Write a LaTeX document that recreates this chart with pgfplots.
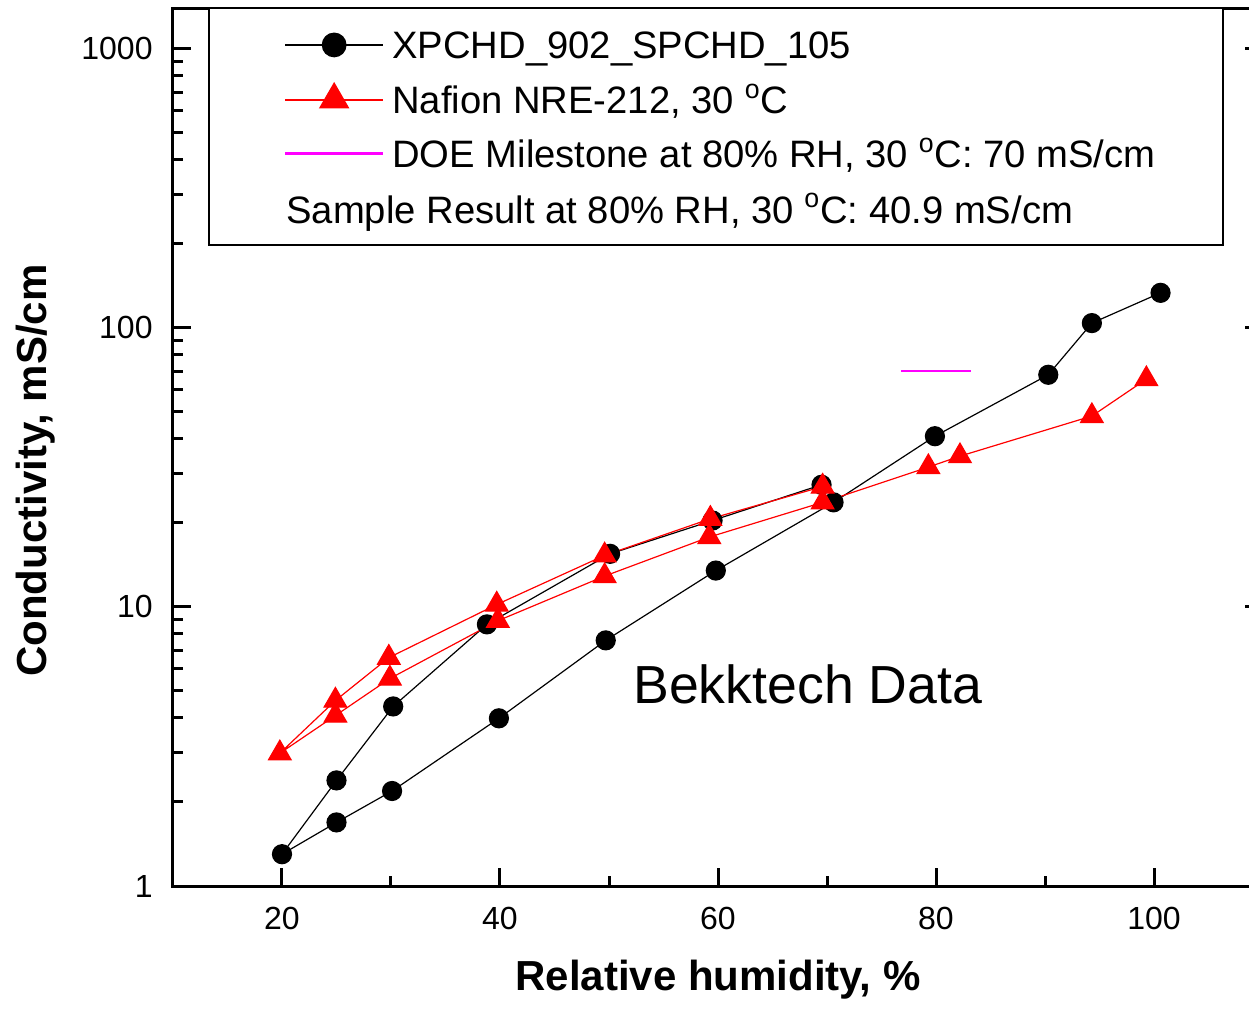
\documentclass[border=0pt]{standalone}
\usepackage{fontspec}
\setmainfont{Liberation Sans}
\usepackage{pgfplots}
\pgfplotsset{compat=1.18}
\definecolor{mag}{RGB}{255,0,255}
\definecolor{pred}{RGB}{255,0,0}
\begin{document}
\begin{tikzpicture}
\begin{axis}[
  scale only axis, width=545pt, height=439pt,
  xmin=10, xmax=110, ymode=log, ymin=1, ymax=1400,
  xtick={20,40,60,80,100}, xticklabels={20,40,60,80,100},
  minor xtick={30,50,70,90},
  ytick={1,10,100,1000}, yticklabels={1,10,100,1000},
  xtick pos=lower, ytick pos=both, yticklabel pos=left,
  tick align=inside,
  major tick length=9pt, minor tick length=5pt,
  every tick/.style={black, line width=1.5pt},
  axis line style={line width=1.5pt},
  tick label style={font=\fontsize{16}{16}\selectfont},
  xticklabel style={inner sep=0pt, anchor=north, yshift=-10.5pt},
  yticklabel style={inner sep=0pt, anchor=east, xshift=-10pt},
  xlabel={\bfseries Relative humidity, \%},
  ylabel={\bfseries Conductivity, mS/cm},
  label style={font=\fontsize{21}{21}\selectfont},
  xlabel style={at={(axis description cs:0.5,-0.1185)}, anchor=base, inner sep=0pt},
  ylabel style={at={(axis description cs:-0.1156,0.473)}, anchor=base, inner sep=0pt, rotate=0},
  legend style={at={(0.1018,0.975)}, anchor=north west, draw=none, fill=none,
    inner sep=0pt, outer sep=0pt, row sep=8pt, column sep=4pt,
    font=\fontsize{19.1}{19.1}\selectfont,
    nodes={inner sep=0pt, text height=14.5pt, text depth=4.5pt}},
  legend cell align=left,
  legend image code/.code={\draw[mark repeat=2, mark phase=2, #1] plot coordinates {(0pt,2pt) (24.5pt,2pt) (49pt,2pt)};},
]
\coordinate (O) at (rel axis cs:0,0);
\draw[line width=1pt, fill=white] (rel axis cs:0.033,0.730) rectangle (rel axis cs:0.9633,1);
\addlegendimage{draw=black, line width=1pt, mark=*, mark size=5.7pt, mark options={fill=black}}
\addlegendentry{XPCHD\_902\_SPCHD\_105}
\addlegendimage{draw=pred, line width=1pt, mark=triangle*, mark size=7.8pt, mark options={draw=pred, fill=pred}}
\addlegendentry{Nafion NRE-212, 30 \textsuperscript{o}C}
\addlegendimage{draw=mag, line width=1.2pt}
\addlegendentry{DOE Milestone at 80\% RH, 30 \textsuperscript{o}C: 70 mS/cm}
\addplot[forget plot, color=black, line width=0.6pt, mark=*, mark size=4.75pt] coordinates {
(69.5,27.4) (59.5,20.4) (50.1,15.5) (38.8,8.66) (30.2,4.40) (25,2.39) (20,1.30)
(25,1.69) (30.1,2.19) (39.9,3.99) (49.7,7.59) (59.8,13.5) (70.6,23.7)
(79.9,40.9) (90.3,67.9) (94.3,104) (100.6,133.5)
};
\addplot[forget plot, color=pred, line width=0.6pt, mark=triangle*, mark size=6.5pt, mark options={draw=pred, fill=pred}] coordinates {
(69.6,27.0) (59.3,20.7) (49.6,15.3) (39.7,10.2) (29.8,6.58) (24.9,4.62) (19.8,2.99)
(24.9,4.08) (29.9,5.54) (39.8,8.92) (49.6,12.9) (59.2,17.8) (69.6,23.7)
(79.3,31.7) (82.2,34.7) (94.3,48.3) (99.3,65.5)
};
\addplot[forget plot, color=mag, line width=1pt] coordinates {(76.8,70) (83.2,70)};
\node[anchor=base west, inner sep=0pt, font=\fontsize{19.1}{19.1}\selectfont] at (rel axis cs:0.1037,0.7551) {Sample Result at 80\% RH, 30 \textsuperscript{o}C: 40.9 mS/cm};
\node[anchor=base west, inner sep=0pt, font=\fontsize{26.8}{26.8}\selectfont] at (rel axis cs:0.422,0.2084) {Bekktech Data};
\end{axis}
\pgfresetboundingbox
\path[use as bounding box] (O) ++(-86.5pt,-61.5pt) rectangle ++(624.5pt,504.5pt);
\end{tikzpicture}
\end{document}
